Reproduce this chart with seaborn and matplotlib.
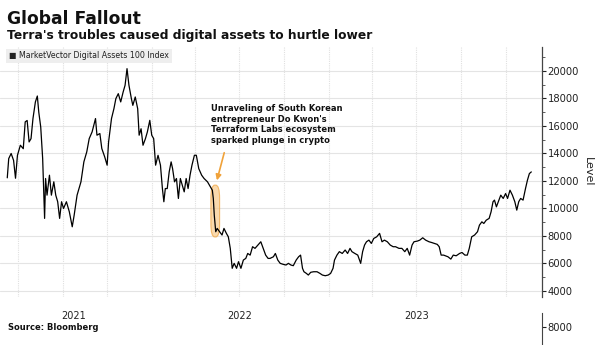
import matplotlib
matplotlib.use("Agg")
import matplotlib.pyplot as plt
import matplotlib.dates as mdates
from matplotlib.patches import FancyBboxPatch
import seaborn as sns
import pandas as pd

# ---------------- data ----------------
dates = [
    "2021-03-09","2021-03-12","2021-03-17","2021-03-22","2021-03-26","2021-03-30","2021-04-05","2021-04-11",
    "2021-04-15","2021-04-19","2021-04-23","2021-04-27","2021-05-01","2021-05-06","2021-05-10","2021-05-13",
    "2021-05-17","2021-05-21","2021-05-25","2021-05-27","2021-05-30","2021-06-04","2021-06-08","2021-06-13",
    "2021-06-17","2021-06-21","2021-06-25","2021-06-29","2021-07-03","2021-07-09","2021-07-15","2021-07-21",
    "2021-07-25","2021-07-31","2021-08-08","2021-08-14","2021-08-20","2021-08-25","2021-08-31","2021-09-07",
    "2021-09-10","2021-09-16","2021-09-20","2021-09-26","2021-10-01","2021-10-04","2021-10-10","2021-10-15",
    "2021-10-19","2021-10-24","2021-10-29","2021-11-03","2021-11-07","2021-11-11","2021-11-15","2021-11-20",
    "2021-11-23","2021-11-28","2021-12-03","2021-12-06","2021-12-10","2021-12-14","2021-12-19","2021-12-23",
    "2021-12-28","2022-01-01","2022-01-05","2022-01-09","2022-01-14","2022-01-19","2022-01-23","2022-01-26",
    "2022-01-29","2022-02-02","2022-02-06","2022-02-10","2022-02-13","2022-02-17","2022-02-21","2022-02-25",
    "2022-03-01","2022-03-05","2022-03-09","2022-03-13","2022-03-17","2022-03-21","2022-03-25","2022-03-30",
    "2022-04-03","2022-04-08","2022-04-14","2022-04-19","2022-04-26","2022-05-02","2022-05-06","2022-05-08",
    "2022-05-10","2022-05-13","2022-05-16","2022-05-21","2022-05-26","2022-05-30","2022-06-04","2022-06-08",
    "2022-06-12","2022-06-16","2022-06-20","2022-06-25","2022-06-29","2022-07-04","2022-07-09","2022-07-14",
    "2022-07-18","2022-07-23","2022-07-28","2022-08-02","2022-08-08","2022-08-14","2022-08-19","2022-08-24",
    "2022-08-29","2022-09-02","2022-09-09","2022-09-13","2022-09-18","2022-09-23","2022-09-29","2022-10-05",
    "2022-10-10","2022-10-15","2022-10-20","2022-10-26","2022-10-31","2022-11-04","2022-11-08","2022-11-11",
    "2022-11-16","2022-11-20","2022-11-25","2022-12-01","2022-12-08","2022-12-14","2022-12-19","2022-12-25",
    "2022-12-31","2023-01-05","2023-01-10","2023-01-13","2023-01-18","2023-01-23","2023-01-29","2023-02-04",
    "2023-02-09","2023-02-14","2023-02-18","2023-02-24","2023-03-02","2023-03-08","2023-03-12","2023-03-16",
    "2023-03-20","2023-03-25","2023-03-30","2023-04-04","2023-04-10","2023-04-16","2023-04-21","2023-04-26",
    "2023-05-02","2023-05-08","2023-05-14","2023-05-19","2023-05-26","2023-06-01","2023-06-07","2023-06-12",
    "2023-06-17","2023-06-22","2023-06-26","2023-07-03","2023-07-08","2023-07-14","2023-07-20","2023-07-27",
    "2023-08-01","2023-08-07","2023-08-13","2023-08-17","2023-08-21","2023-08-26","2023-08-30","2023-09-04",
    "2023-09-10","2023-09-15","2023-09-21","2023-09-28","2023-10-03","2023-10-09","2023-10-14","2023-10-18",
    "2023-10-23","2023-10-29","2023-11-04","2023-11-08","2023-11-13","2023-11-17","2023-11-22","2023-11-28",
    "2023-12-02","2023-12-06","2023-12-09","2023-12-13","2023-12-17","2023-12-22","2023-12-27","2024-01-01",
    "2024-01-05","2024-01-10","2024-01-15","2024-01-20","2024-01-24","2024-01-28","2024-02-01","2024-02-06",
    "2024-02-11","2024-02-15","2024-02-19","2024-02-23",
]
levels = [
    12230,13630,14000,13500,12200,13870,14600,14350,
    16300,16400,14840,15080,16540,17750,18180,17000,
    15930,13630,9280,12180,10970,12420,10970,11940,
    10970,10490,9280,10490,10000,10490,9760,8670,
    9520,10970,11940,13390,14120,15080,15570,16540,
    15330,15450,14360,13750,13150,14840,16540,17260,
    17990,18350,17750,18470,18960,20170,18960,17990,
    17500,18110,17260,15330,15800,14600,15080,15570,
    16410,15330,15080,13150,13870,13150,11450,10490,
    11450,11450,12660,13390,12900,11940,12180,10730,
    12180,11700,11210,12180,11450,12420,13150,13870,
    13870,12900,12420,12180,11940,11570,11330,10730,
    9520,8310,8550,8310,8070,8550,8190,7940,
    7100,5650,6010,5650,6130,5650,6250,6370,
    6730,6610,7220,7100,7340,7580,7100,6610,
    6370,6370,6490,6730,6250,6010,5940,5890,
    6010,5890,5840,6250,6490,6610,5650,5400,
    5280,5160,5360,5400,5400,5280,5160,5110,
    5160,5280,5650,6250,6610,6860,6730,6980,
    6730,7100,6860,6730,6610,6010,6860,7340,
    7580,7700,7460,7820,7940,8190,7580,7700,
    7580,7340,7220,7220,7100,7100,6860,7100,
    6610,7340,7580,7630,7700,7870,7700,7580,
    7530,7460,7390,7220,6610,6610,6560,6490,
    6320,6610,6560,6730,6800,6610,6610,7100,
    7940,8070,8310,8790,9030,8910,9150,9280,
    9760,10490,10610,10120,10490,10970,10730,11090,
    10730,11330,10970,10490,9880,10490,10730,10610,
    11450,12060,12540,12660,
]
year_labels = ["2021", "2022", "2023"]
year_label_dates = ["2021-07-23", "2022-07-02", "2023-07-02"]
y_ticks = [4000, 6000, 8000, 10000, 12000, 14000, 16000, 18000, 20000]

series_name = "MarketVector Digital Assets 100 Index"
title = "Global Fallout"
subtitle = "Terra's troubles caused digital assets to hurtle lower"
note = "Unraveling of South Korean\nentrepreneur Do Kwon's\nTerraform Labs ecosystem\nsparked plunge in crypto"
source = "Source: Bloomberg"

df = pd.DataFrame({"date": pd.to_datetime(dates), "level": levels})

# ---------------- figure ----------------
sns.set_style("white")
plt.rcParams["font.family"] = ["DejaVu Sans"]

fig = plt.figure(figsize=(6.0, 3.45), dpi=100)
ax = fig.add_axes([0.0, 0.139, 0.9033, 0.7246])

# quarter gridlines
ax.xaxis.set_major_locator(mdates.MonthLocator(bymonth=[1, 4, 7, 10]))
ax.xaxis.set_major_formatter(plt.NullFormatter())
ax.grid(True, axis="x", color="#e0e0e0", linewidth=0.8, linestyle=(0, (1, 1)))
ax.grid(True, axis="y", color="#e4e4e4", linewidth=0.8)
ax.tick_params(axis="x", which="major", length=0)

sns.lineplot(data=df, x="date", y="level", ax=ax, color="black", linewidth=0.9, legend=False)

ax.set_xlim(pd.Timestamp("2021-02-22"), pd.Timestamp("2024-03-16"))
ax.set_ylim(3560, 21740)

# year labels (minor ticks, centred in years)
ax.xaxis.set_minor_locator(matplotlib.ticker.FixedLocator(mdates.date2num(pd.to_datetime(year_label_dates))))
ax.xaxis.set_minor_formatter(matplotlib.ticker.FixedFormatter(year_labels))
ax.xaxis.remove_overlapping_locs = False
ax.tick_params(axis="x", which="minor", length=0, labelsize=7, pad=10, colors="#222222")
ax.set_xlabel("")

# right-hand y axis
ax.yaxis.tick_right()
ax.yaxis.set_label_position("right")
ax.set_yticks(y_ticks)
ax.set_yticklabels([str(v) for v in y_ticks])
ax.set_yticks([v + 1000 for v in y_ticks[:-1]] + [21000], minor=True)
ax.tick_params(axis="y", which="major", length=3, width=0.8, labelsize=7.2, pad=1, colors="#222222")
ax.tick_params(axis="y", which="minor", length=2, width=0.6, colors="#444444")
ax.set_ylabel("Level", rotation=270, labelpad=10, fontsize=8, color="#222222")
for s in ["top", "left", "bottom"]:
    ax.spines[s].set_visible(False)
ax.spines["right"].set_color("#444444")
ax.spines["right"].set_linewidth(0.9)

# legend box
ax.text(0.017, 0.965, "\u25A0 " + series_name, transform=ax.transAxes, fontsize=5.7,
        va="center", ha="left", color="#222222",
        bbox=dict(boxstyle="square,pad=0.35", fc="#eeeeee", ec="none"))

# highlight of the Terra plunge (rounded box)
d0 = mdates.date2num(pd.Timestamp("2022-05-03"))
d1 = mdates.date2num(pd.Timestamp("2022-05-21"))
hl = FancyBboxPatch((d0, 7930), d1 - d0, 11700 - 7930,
                    boxstyle="round,pad=0,rounding_size=8", mutation_aspect=120,
                    fc="#f7c98a", ec="#f0a23a", lw=0.8, alpha=0.7, zorder=1)
ax.add_patch(hl)

# annotation arrow
ax.annotate("", xy=(pd.Timestamp("2022-05-14"), 11850), xytext=(pd.Timestamp("2022-06-01"), 14250),
            arrowprops=dict(arrowstyle="-|>", color="#f0a23a", lw=1.2, mutation_scale=8))
fig.text(211 / 600, 1 - 104 / 345, note, fontsize=6.0, fontweight="bold", va="top", ha="left",
         color="#111111", linespacing=1.25)

# titles and source
fig.text(7 / 600, 1 - 19 / 345, title, fontsize=12.3, fontweight="bold", va="center", ha="left", color="#111111")
fig.text(7 / 600, 1 - 35 / 345, subtitle, fontsize=8.8, fontweight="bold", va="center", ha="left", color="#111111")
fig.text(8 / 600, 1 - 327 / 345, source, fontsize=6, fontweight="bold", va="center", ha="left", color="#111111")

# fragment of an overlapping axis at the bottom right
ax2 = fig.add_axes([0.9033, 0.0, 0.0001, (345 - 313) / 345])
ax2.set_ylim(7000, 8800)
ax2.set_xticks([])
ax2.yaxis.tick_right()
ax2.set_yticks([8000])
ax2.set_yticklabels(["8000"])
ax2.tick_params(axis="y", length=3, labelsize=7.2, pad=1, colors="#222222")
for s in ["top", "left", "bottom"]:
    ax2.spines[s].set_visible(False)
ax2.spines["right"].set_color("#444444")
ax2.patch.set_alpha(0)

fig.savefig("out.png", dpi=100)
